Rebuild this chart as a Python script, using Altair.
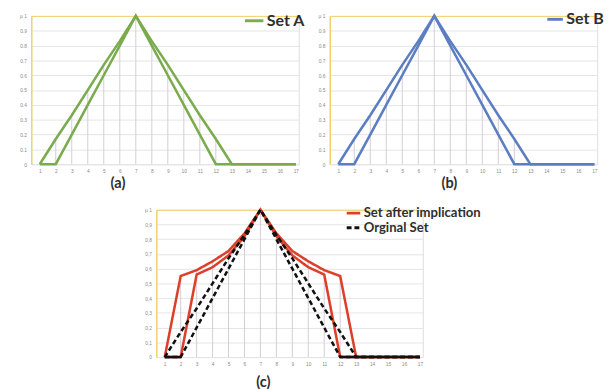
import altair as alt
import pandas as pd

# ---------------- data ----------------
x_vals = list(range(1, 18))
y_ticks = [0, 0.1, 0.2, 0.3, 0.4, 0.5, 0.6, 0.7, 0.8, 0.9, 1]

set_a_outer = [0, 0.17, 0.33, 0.5, 0.67, 0.83, 1, 0.83, 0.67, 0.5, 0.33, 0.17, 0, 0, 0, 0, 0]
set_a_inner = [0, 0, 0.2, 0.4, 0.6, 0.8, 1, 0.8, 0.6, 0.4, 0.2, 0, 0, 0, 0, 0, 0]

set_b_outer = [0, 0.17, 0.33, 0.5, 0.67, 0.83, 1, 0.83, 0.67, 0.5, 0.33, 0.17, 0, 0, 0, 0, 0]
set_b_inner = [0, 0, 0.2, 0.4, 0.6, 0.8, 1, 0.8, 0.6, 0.4, 0.2, 0, 0, 0, 0, 0, 0]

impl_outer = [0, 0.55, 0.59, 0.65, 0.72, 0.84, 1, 0.84, 0.72, 0.65, 0.59, 0.55, 0, 0, 0, 0, 0]
impl_inner = [0, 0, 0.56, 0.61, 0.69, 0.82, 1, 0.82, 0.69, 0.61, 0.56, 0, 0, 0, 0, 0, 0]
orig_outer = [0, 0.17, 0.33, 0.5, 0.67, 0.83, 1, 0.83, 0.67, 0.5, 0.33, 0.17, 0, 0, 0, 0, 0]
orig_inner = [0, 0, 0.2, 0.4, 0.6, 0.8, 1, 0.8, 0.6, 0.4, 0.2, 0, 0, 0, 0, 0, 0]

# solid black flat parts of the bottom panel
base_start = [1, 12]
base_end = [2, 17]

GREEN = "#7aab4c"
BLUE = "#5b7ec2"
RED = "#dc3f2a"
BLACK = "#111111"
YELLOW = "#f1d36e"
GRID = "#e4e4e4"
DROP = "#d4cbd9"
TXT = "#2e2e2e"


def long_df(curves):
    rows = []
    for set_name, curve_id, vals in curves:
        for x, y in zip(x_vals, vals):
            rows.append({"x": x, "y": y, "curve": curve_id, "set": set_name})
    return pd.DataFrame(rows)


def drop_df(series_list):
    return pd.DataFrame({
        "x": x_vals,
        "y0": [0] * len(x_vals),
        "ymax": [max(v) for v in zip(*series_list)],
    })


def panel(df, drops, domain, colors, dashes, legend_x, legend_y, leg_font, sym_size,
          title, title_x, title_y, comma, w, h, base_df=None):
    xscale = alt.Scale(domain=[0.47, 17.18], nice=False, zero=False)
    yscale = alt.Scale(domain=[0, 1], nice=False)
    fmt = "format(datum.value, '.1f')"
    if comma:
        fmt = "replace(" + fmt + ", '.', ',')"
    xaxis = alt.Axis(values=x_vals, format="d", labelFontSize=5, labelColor="#8a8a8a",
                     labelPadding=5, domain=False, ticks=False, grid=False,
                     title=title, titleFontSize=15, titleFontWeight="bold",
                     titleColor=TXT, titleFont="Lato", titleX=title_x, titleY=title_y,
                     titleBaseline="middle", titleAlign="center")
    yaxis = alt.Axis(values=y_ticks, labelFontSize=5, labelColor="#8a8a8a",
                     labelPadding=5, ticks=False, domainColor=YELLOW, domainWidth=1.5,
                     grid=True, gridWidth=1,
                     gridColor={"condition": {"test": "datum.value == 1", "value": YELLOW},
                                "value": GRID},
                     labelExpr="datum.value == 1 ? 'µ 1' : datum.value == 0 ? '0' : " + fmt,
                     title=None)
    rules = alt.Chart(drops).mark_rule(color=DROP, strokeWidth=1).encode(
        x=alt.X("x:Q", scale=xscale, axis=xaxis),
        y=alt.Y("y0:Q", scale=yscale, axis=yaxis),
        y2="ymax:Q",
    )
    leg = alt.Legend(title=None, orient="none", legendX=legend_x, legendY=legend_y,
                     symbolType="stroke", symbolStrokeWidth=3, symbolSize=sym_size,
                     labelFontSize=leg_font, labelFont="Lato", labelFontWeight="bold",
                     labelColor=TXT, rowPadding=0, padding=0, labelOffset=2)
    enc = dict(
        x=alt.X("x:Q", scale=xscale, axis=xaxis),
        y=alt.Y("y:Q", scale=yscale, axis=yaxis),
        color=alt.Color("set:N", scale=alt.Scale(domain=domain, range=colors), legend=leg),
        detail="curve:N",
        order="x:Q",
    )
    if dashes is not None:
        enc["strokeDash"] = alt.StrokeDash("set:N", scale=alt.Scale(domain=domain, range=dashes),
                                           legend=leg)
    lines = alt.Chart(df).mark_line(strokeWidth=2.6, strokeJoin="miter").encode(**enc)
    layers = [rules, lines]
    if base_df is not None:
        layers.append(alt.Chart(base_df).mark_rule(color=BLACK, strokeWidth=2.6).encode(
            x=alt.X("x:Q", scale=xscale, axis=xaxis), x2="x2:Q",
            y=alt.Y("y:Q", scale=yscale, axis=yaxis)))
    return alt.layer(*layers).properties(width=w, height=h)


df_a = long_df([("Set A", "outer", set_a_outer), ("Set A", "inner", set_a_inner)])
df_b = long_df([("Set B", "outer", set_b_outer), ("Set B", "inner", set_b_inner)])
df_c = long_df([("Set after implication", "io", impl_outer),
                ("Set after implication", "ii", impl_inner),
                ("Orginal Set", "oo", orig_outer),
                ("Orginal Set", "oi", orig_inner)])
base_df = pd.DataFrame({"x": base_start, "x2": base_end, "y": [0, 0]})

chart_a = panel(df_a, drop_df([set_a_outer, set_a_inner]), ["Set A"], [GREEN], None,
                219, -6, 16.5, 361, "(a)", 89, 19, False, 276, 153)
chart_b = panel(df_b, drop_df([set_b_outer, set_b_inner]), ["Set B"], [BLUE], None,
                223, -6, 16.5, 256, "(b)", 123, 19, False, 276, 153)
chart_c = panel(df_c, drop_df([impl_outer, impl_inner]),
                ["Set after implication", "Orginal Set"], [RED, BLACK], [[1, 0], [5, 3]],
                195, -5, 13.5, 196, "(c)", 110, 25, True, 275, 152, base_df=base_df)

spacer = alt.Chart(pd.DataFrame({"s": [0], "t": [""]})).mark_text(opacity=0).encode(
    x=alt.value(0), y=alt.value(0), text="t:N").properties(
    width=116, height=5,
    view=alt.ViewBackground(stroke="transparent", strokeWidth=0, fill="transparent"))

top = alt.hconcat(chart_a, chart_b, spacing=11).resolve_scale(
    color="independent", x="independent", y="independent").resolve_legend(color="independent")
bottom = alt.hconcat(spacer, chart_c, spacing=0).resolve_scale(
    color="independent", strokeDash="independent", x="independent", y="independent"
).resolve_legend(color="independent", strokeDash="independent")

chart = alt.vconcat(top, bottom, spacing=13).resolve_scale(
    color="independent", strokeDash="independent", x="independent", y="independent"
).resolve_legend(color="independent", strokeDash="independent").properties(
    padding={"left": 11, "top": -5, "right": 0, "bottom": 0}
).configure_view(stroke="transparent", strokeWidth=0).configure(background="#ffffff")

chart.save("out.html", embed_options={"renderer": "svg", "actions": False})
